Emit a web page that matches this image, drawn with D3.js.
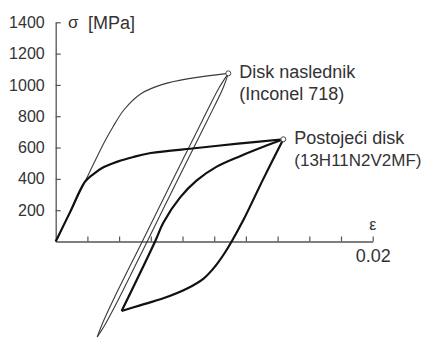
<!DOCTYPE html>
<html><head><meta charset="utf-8">
<script src="https://cdn.jsdelivr.net/npm/d3@7"></script>
<style>
html,body{margin:0;padding:0;background:#fff;}
svg{display:block;font-family:"Liberation Sans",Arial,sans-serif;}
</style></head>
<body>
<svg id="c" width="429" height="338"></svg>
<script>
// ---- data (strain, stress [MPa]) ----
const yTicks = [200, 400, 600, 800, 1000, 1200, 1400];
const xTicks = [0.002, 0.004, 0.006, 0.008, 0.010, 0.012, 0.014, 0.016, 0.018, 0.020];
const xTickLabels = ["", "", "", "", "", "", "", "", "", "0.02"];

// Postojeći disk (13H11N2V2MF) – thick loop
const thickLoading = [[0,0],[0.0009,186],[0.00185,382],[0.0024,432],[0.0029,468],[0.0039,510],[0.0049,540],[0.006,565],[0.0089,597],[0.0115,625],[0.01436,653]];
const thickUnloading = [[0.01436,653],[0.0131,400],[0.01184,137],[0.0111,0],[0.01065,-75],[0.01005,-160],[0.00935,-235],[0.00826,-302],[0.00679,-363],[0.00532,-408],[0.00416,-444]];
const thickReloading = [[0.00416,-444],[0.00627,0],[0.00679,120],[0.00784,280],[0.0089,390],[0.01016,478],[0.01163,545],[0.0131,605],[0.01436,653]];

// Disk naslednik (Inconel 718) – thin loop
const thinLoading = [[0,0],[0.0015,310],[0.0031,640],[0.0036,730],[0.0043,840],[0.0054,945],[0.0068,1005],[0.0085,1042],[0.01089,1074]];
const thinUnloading = [[0.01089,1074],[0.0103,980],[0.00927,776],[0.00738,393],[0.00551,10],[0.00363,-374],[0.00291,-533],[0.00262,-610]];
const thinReloading = [[0.00262,-610],[0.0031,-533],[0.00394,-374],[0.00582,10],[0.00769,393],[0.00958,776],[0.01056,980],[0.01089,1074]];

const tips = [[0.01089,1074],[0.01436,653]];
const labels = [
  {lines:["Disk naslednik","(Inconel 718)"], sizes:[18,18], at:[0.01089,1074]},
  {lines:["Postojeći disk","(13H11N2V2MF)"], sizes:[18,17], at:[0.01436,653]}
];

// ---- chart ----
const svg = d3.select("#c");
const x = d3.scaleLinear().domain([0, 0.02]).range([55.7, 372.7]);
const y = d3.scaleLinear().domain([0, 1400]).range([241.5, 22.3]);

const axisColor = "#555", textColor = "#333";

const gy = svg.append("g").attr("transform", `translate(${x(0)},0)`)
  .call(d3.axisLeft(y).tickValues(yTicks).tickSize(-5).tickSizeOuter(0).tickPadding(11).tickFormat(d3.format("d")));
const gx = svg.append("g").attr("transform", `translate(0,${y(0)})`)
  .call(d3.axisBottom(x).tickValues(xTicks).tickSize(-5).tickSizeOuter(0).tickPadding(8)
    .tickFormat((d,i) => xTickLabels[i]));
[gx, gy].forEach(g => {
  g.selectAll("path.domain").attr("stroke", axisColor).attr("stroke-width", 1.3);
  g.selectAll(".tick line").attr("stroke", axisColor).attr("stroke-width", 1.2);
  g.selectAll(".tick text").attr("fill", textColor).attr("font-family", "Liberation Sans, Arial, sans-serif");
});
gy.selectAll(".tick text").attr("font-size", 16);
gx.selectAll(".tick text").attr("font-size", 18);

// axis titles
svg.append("text").attr("x", 68).attr("y", 28).attr("font-size", 17).attr("fill", textColor).text("σ");
svg.append("text").attr("x", 88).attr("y", 28.5).attr("font-size", 18).attr("fill", textColor).text("[MPa]");
svg.append("text").attr("x", x(0.02)).attr("y", 229.5).attr("text-anchor", "middle")
  .attr("font-size", 16).attr("fill", textColor).text("ε");

// curves
const lineFn = d3.line().x(d => x(d[0])).y(d => y(d[1])).curve(d3.curveCatmullRom.alpha(0.5));

const thin = [thinLoading, thinUnloading, thinReloading];
const thick = [thickLoading, thickUnloading, thickReloading];
svg.append("g").selectAll("path").data(thin).join("path")
  .attr("d", lineFn).attr("fill", "none")
  .attr("stroke", "#3a3a3a").attr("stroke-width", 1.1);
svg.append("g").selectAll("path").data(thick).join("path")
  .attr("d", lineFn).attr("fill", "none")
  .attr("stroke", "#111").attr("stroke-width", 2.2).attr("stroke-linejoin", "round");

svg.append("g").selectAll("circle").data(tips).join("circle")
  .attr("cx", d => x(d[0])).attr("cy", d => y(d[1])).attr("r", 2.5)
  .attr("fill", "#fff").attr("stroke", "#444").attr("stroke-width", 1);

// labels
labels.forEach(l => {
  const t = svg.append("text").attr("fill", textColor);
  l.lines.forEach((s, i) => {
    t.append("tspan").attr("x", x(l.at[0]) + 11).attr("y", y(l.at[1]) + 5 + i * 21.7)
      .attr("font-size", l.sizes[i]).text(s);
  });
});
</script>
</body></html>
